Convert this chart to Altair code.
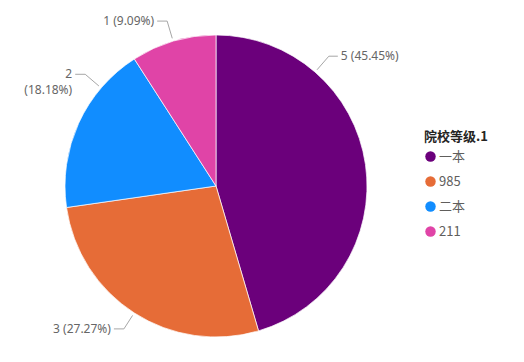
import math
import altair as alt
import pandas as pd

# ---- data ----
categories = ["一本", "985", "二本", "211"]
counts = [5, 3, 2, 1]
percents = ["45.45%", "27.27%", "18.18%", "9.09%"]
colors = ["#6B007B", "#E66C37", "#118DFF", "#E044A7"]

# ---- layout ----
W, H = 400, 340
CX, CY, R = 203, 173, 151
label_angle = [41, 212.8, 310.5, 343.5]   # leader anchor angle (deg, clockwise from top)
elbow_r = [172, 170, 172, 172]
label_sep = [" ", " ", "\n", " "]

pie = pd.DataFrame({"cat": categories, "val": counts, "idx": list(range(len(counts)))})

rows = []
for i, c in enumerate(categories):
    a = math.radians(label_angle[i])
    s, co = math.sin(a), math.cos(a)
    x1, y1 = CX + 154 * s, CY - 154 * co
    x2, y2 = CX + elbow_r[i] * s, CY - elbow_r[i] * co
    right = s > 0
    x3 = x2 + (9 if right else -10)
    rows.append({
        "cat": c, "x1": x1, "y1": y1, "x2": x2, "y2": y2, "x3": x3,
        "tx": x3 + (3 if right else -3),
        "align": "left" if right else "right",
        "text": f"{counts[i]}{label_sep[i]}({percents[i]})",
    })
lab = pd.DataFrame(rows)

color_scale = alt.Scale(domain=categories, range=colors)

arc = alt.Chart(pie).mark_arc(outerRadius=R, stroke="white", strokeWidth=0.7).encode(
    theta=alt.Theta("val:Q", stack=True),
    color=alt.Color(
        "cat:N", scale=color_scale, sort=categories,
        legend=alt.Legend(
            title="院校等级.1", orient="none", legendX=411, legendY=118,
            symbolType="circle", symbolSize=110, symbolStrokeWidth=0,
            titleFont="Noto Sans CJK SC", titleFontSize=13, titleFontWeight="bold",
            titleColor="#252423", labelFont="Noto Sans CJK SC", labelFontSize=13,
            labelColor="#605E5C", rowPadding=11, titlePadding=6, labelOffset=2,
        ),
    ),
    order=alt.Order("idx:Q"),
    x=alt.value(CX), y=alt.value(CY),
)

seg1 = alt.Chart(lab).mark_rule(color="#A6A6A6", strokeWidth=1).encode(
    x=alt.X("x1:Q", scale=None), y=alt.Y("y1:Q", scale=None),
    x2="x2:Q", y2="y2:Q",
)
seg2 = alt.Chart(lab).mark_rule(color="#A6A6A6", strokeWidth=1).encode(
    x=alt.X("x2:Q", scale=None), y=alt.Y("y2:Q", scale=None),
    x2="x3:Q", y2="y2:Q",
)

def text_layer(align):
    return alt.Chart(lab).transform_filter(alt.datum.align == align).mark_text(
        align=align, baseline="middle", font="Noto Sans", fontSize=12,
        color="#666666", lineBreak="\n", lineHeight=16,
    ).encode(
        x=alt.X("tx:Q", scale=None), y=alt.Y("y2:Q", scale=None), text="text:N",
    )

chart = alt.layer(arc, seg1, seg2, text_layer("left"), text_layer("right")).properties(
    width=W, height=H
).configure_view(stroke=None)

chart.save("out.html", embed_options={"renderer": "svg", "actions": False})
